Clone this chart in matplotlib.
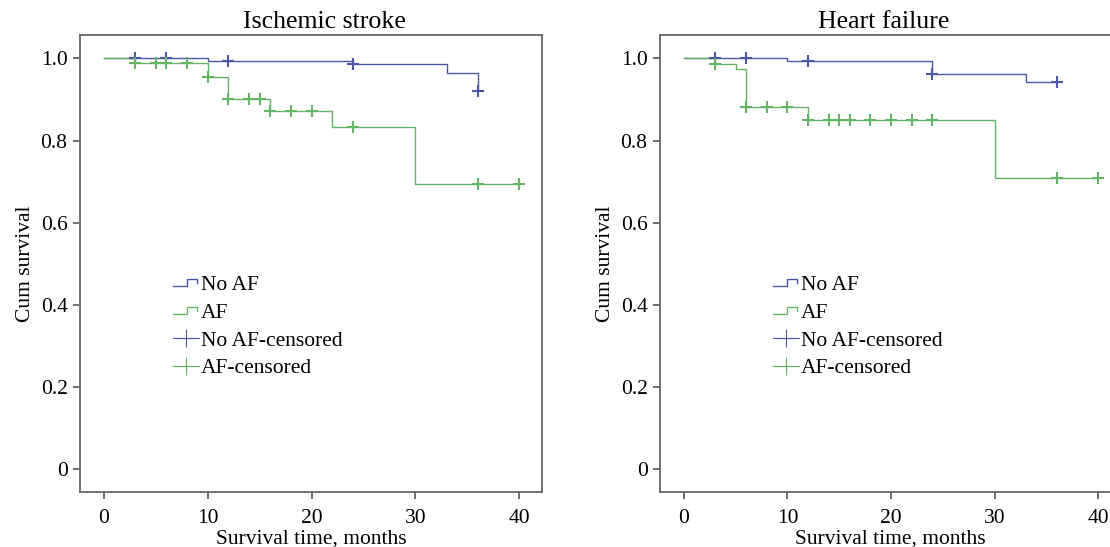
import numpy as np
import matplotlib
matplotlib.use("Agg")
import matplotlib.pyplot as plt
from matplotlib.lines import Line2D
from matplotlib.legend_handler import HandlerBase

plt.rcParams['font.family'] = ['Liberation Serif', 'DejaVu Serif']
plt.rcParams['font.size'] = 15.5

blue = '#4C57A6'
green = '#66B466'

# Ischemic stroke
stroke_noaf_t = [0, 10, 24, 33, 36]
stroke_noaf_s = [1.0, 0.994, 0.986, 0.964, 0.92]
stroke_noaf_cens = [3, 6, 12, 24, 36]
stroke_af_t = [0, 3, 10, 12, 16, 22, 30, 40]
stroke_af_s = [1.0, 0.988, 0.954, 0.902, 0.871, 0.832, 0.694, 0.694]
stroke_af_cens = [3, 5, 6, 8, 10, 12, 14, 15, 16, 18, 20, 24, 36, 40]

# Heart failure
hf_noaf_t = [0, 10, 24, 33, 36]
hf_noaf_s = [1.0, 0.993, 0.963, 0.942, 0.942]
hf_noaf_cens = [3, 6, 12, 24, 36]
hf_af_t = [0, 3, 5, 6, 12, 30, 40]
hf_af_s = [1.0, 0.987, 0.973, 0.882, 0.851, 0.708, 0.708]
hf_af_cens = [3, 6, 8, 10, 12, 14, 15, 16, 18, 20, 22, 24, 36, 40]

yticks = [0, 0.2, 0.4, 0.6, 0.8, 1.0]
ytick_labels = ['0', '0.2', '0.4', '0.6', '0.8', '1.0']
xticks = [0, 10, 20, 30, 40]


def surv_at(t, times, surv):
    i = np.searchsorted(times, t, side='right') - 1
    return np.array(surv)[i]


class StepHandler(HandlerBase):
    def create_artists(self, legend, orig_handle, xdescent, ydescent,
                       width, height, fontsize, trans):
        xs = np.array([0, 0.55, 0.55, 0.95, 0.95]) * width - xdescent
        ys = np.array([0.3, 0.3, 0.75, 0.75, 0.5]) * height - ydescent
        ln = Line2D(xs, ys, color=orig_handle.get_color(), lw=1.0,
                    transform=trans)
        return [ln]


fig = plt.figure(figsize=(11.1, 5.47), dpi=100)

panels = [
    ('Ischemic stroke', [0.0721, 0.1005, 0.4162, 0.8355], 0.528, 0.201,
     (stroke_noaf_t, stroke_noaf_s, stroke_noaf_cens),
     (stroke_af_t, stroke_af_s, stroke_af_cens)),
    ('Heart failure', [0.5946, 0.1005, 0.4153, 0.8355], 0.485, 0.245,
     (hf_noaf_t, hf_noaf_s, hf_noaf_cens),
     (hf_af_t, hf_af_s, hf_af_cens)),
]

for title, pos, tx, lx, noaf, af in panels:
    ax = fig.add_axes(pos)
    handles = []
    for (t, s, c), col in [(noaf, blue), (af, green)]:
        ln, = ax.step(t, s, where='post', color=col, lw=1.0)
        handles.append(ln)
    for (t, s, c), col in [(noaf, blue), (af, green)]:
        ax.plot(c, surv_at(c, t, s), linestyle='none', marker='+',
                color=col, ms=8, mew=1.5)
    cens_handles = [Line2D([], [], color=blue, lw=0.8, marker='+', ms=13, mew=0.8),
                    Line2D([], [], color=green, lw=0.8, marker='+', ms=13, mew=0.8)]

    ax.set_xlim(-2.3, 42.2)
    ax.set_ylim(-0.056, 1.057)
    ax.set_xticks(xticks)
    ax.set_yticks(yticks)
    ax.set_yticklabels(ytick_labels)
    ax.tick_params(direction='out', length=5, width=1.2, color='#555555',
                   top=False, right=False)
    ax.tick_params(axis='x', pad=7)
    ax.tick_params(axis='y', pad=4)
    for sp in ax.spines.values():
        sp.set_color('#666666')
        sp.set_linewidth(1.3)
    ax.set_title(title, x=tx, pad=5)
    ax.set_xlabel('Survival time, months', labelpad=1)
    ax.set_ylabel('Cum survival', labelpad=4)

    ax.legend(handles + cens_handles,
              ['No AF', 'AF', 'No AF-censored', 'AF-censored'],
              handler_map={handles[0]: StepHandler(), handles[1]: StepHandler()},
              loc='upper left', bbox_to_anchor=(lx, 0.474), frameon=False,
              borderpad=0, borderaxespad=0, handlelength=1.2,
              handletextpad=0.1, labelspacing=0.35, numpoints=1)

fig.savefig('out.png', dpi=100)
